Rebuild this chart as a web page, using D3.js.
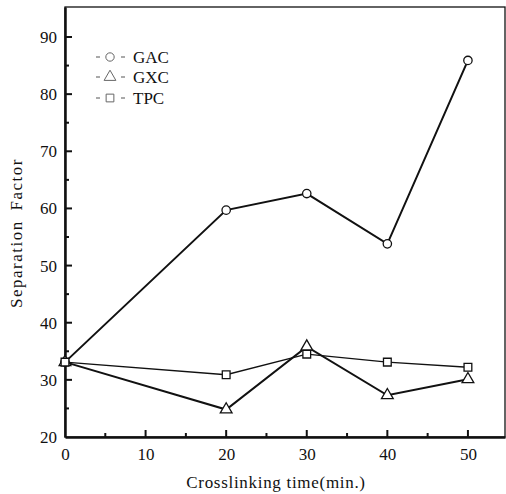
<!DOCTYPE html>
<html>
<head>
<meta charset="utf-8">
<script src="https://cdn.jsdelivr.net/npm/d3@7"></script>
<style>
  body { margin: 0; background: #fff; }
  svg text { font-family: "Liberation Serif", "DejaVu Serif", serif; fill: #111; }
</style>
</head>
<body>
<div id="chart"></div>
<script>
// crosslinking time (min.)
var times = [0, 20, 30, 40, 50];
// separation factor per series
var gac = [33.1, 59.7, 62.6, 53.8, 85.9];
var gxc = [33.1, 24.8, 35.8, 27.3, 30.1];
var tpc = [33.1, 30.9, 34.5, 33.1, 32.2];
var seriesNames = ["GAC", "GXC", "TPC"];
var xTicks = [0, 10, 20, 30, 40, 50];
var yTicks = [20, 30, 40, 50, 60, 70, 80, 90];

var width = 506, height = 494;
var margin = {top: 7, right: 1, bottom: 57, left: 65};

var svg = d3.select("#chart").append("svg")
    .attr("width", width)
    .attr("height", height);

var x = d3.scaleLinear().domain([0, 54.6]).range([margin.left, width - margin.right]);
var y = d3.scaleLinear().domain([20, 95.25]).range([height - margin.bottom, margin.top]);

// frame (top and right thinner)
svg.append("rect")
    .attr("x", x(0)).attr("y", y(95.25))
    .attr("width", x(54.6) - x(0)).attr("height", y(20) - y(95.25))
    .attr("fill", "none").attr("stroke", "#111").attr("stroke-width", 1.3);

// minor ticks every 5
var xMinor = d3.range(5, 55, 10);
var yMinor = d3.range(25, 95, 10);

var xAxis = svg.append("g")
    .attr("transform", "translate(0," + y(20) + ")")
    .call(d3.axisBottom(x).tickValues(xTicks).tickSize(0).tickPadding(11).tickFormat(d3.format("d")));
xAxis.select(".domain").attr("stroke", "#111").attr("stroke-width", 2.5);
xAxis.selectAll("text").attr("font-size", 17);

xAxis.selectAll(".major")
    .data(xTicks.slice(1)).enter().append("line")
    .attr("x1", function(d) { return x(d); }).attr("x2", function(d) { return x(d); })
    .attr("y1", 0).attr("y2", -7)
    .attr("stroke", "#111").attr("stroke-width", 2);
xAxis.selectAll(".minor")
    .data(xMinor).enter().append("line")
    .attr("x1", function(d) { return x(d); }).attr("x2", function(d) { return x(d); })
    .attr("y1", 0).attr("y2", -4)
    .attr("stroke", "#111").attr("stroke-width", 2);

var yAxis = svg.append("g")
    .attr("transform", "translate(" + x(0) + ",0)")
    .call(d3.axisLeft(y).tickValues(yTicks).tickSize(0).tickPadding(8).tickFormat(d3.format("d")));
yAxis.select(".domain").attr("stroke", "#111").attr("stroke-width", 2.5);
yAxis.selectAll("text").attr("font-size", 17);

yAxis.selectAll(".major")
    .data(yTicks.slice(1)).enter().append("line")
    .attr("y1", function(d) { return y(d); }).attr("y2", function(d) { return y(d); })
    .attr("x1", 0).attr("x2", 7)
    .attr("stroke", "#111").attr("stroke-width", 2);
yAxis.selectAll(".minor")
    .data(yMinor).enter().append("line")
    .attr("y1", function(d) { return y(d); }).attr("y2", function(d) { return y(d); })
    .attr("x1", 0).attr("x2", 4)
    .attr("stroke", "#111").attr("stroke-width", 2);

// axis titles
svg.append("text")
    .attr("x", 276).attr("y", 488)
    .attr("text-anchor", "middle").attr("font-size", 17)
    .attr("letter-spacing", 0.7)
    .text("Crosslinking time(min.)");
svg.append("text")
    .attr("transform", "translate(22,233) rotate(-90)")
    .attr("text-anchor", "middle").attr("font-size", 17)
    .attr("letter-spacing", 1.5).attr("word-spacing", 4)
    .text("Separation Factor");

// series
var allSeries = [gac, gxc, tpc];
var widths = [2, 2, 1.4];
var line = d3.line()
    .x(function(d, i) { return x(times[i]); })
    .y(function(d) { return y(d); });

var symbols = [d3.symbolCircle, d3.symbolTriangle, d3.symbolSquare];
var symSize = [55, 60, 60];

allSeries.forEach(function(vals, s) {
    svg.append("path")
        .datum(vals)
        .attr("d", line)
        .attr("fill", "none")
        .attr("stroke", "#111")
        .attr("stroke-width", widths[s]);
});

allSeries.forEach(function(vals, s) {
    svg.selectAll(".pt" + s)
        .data(vals).enter().append("path")
        .attr("d", d3.symbol().type(symbols[s]).size(symSize[s]))
        .attr("transform", function(d, i) { return "translate(" + x(times[i]) + "," + y(d) + ")"; })
        .attr("fill", "#fff")
        .attr("stroke", "#111")
        .attr("stroke-width", 1.3);
});

// legend
var legendY = [57, 77, 98];
var leg = svg.append("g");
seriesNames.forEach(function(name, s) {
    var g = leg.append("g").attr("transform", "translate(0," + legendY[s] + ")");
    g.append("line").attr("x1", 96).attr("x2", 100).attr("y1", 0).attr("y2", 0)
        .attr("stroke", "#555").attr("stroke-width", 1);
    g.append("line").attr("x1", 121).attr("x2", 125).attr("y1", 0).attr("y2", 0)
        .attr("stroke", "#555").attr("stroke-width", 1);
    g.append("path")
        .attr("d", d3.symbol().type(symbols[s]).size(symSize[s]))
        .attr("transform", "translate(110,0)")
        .attr("fill", "#fff").attr("stroke", "#666").attr("stroke-width", 1);
    g.append("text")
        .attr("x", 133).attr("y", 6)
        .attr("font-size", 17)
        .text(name);
});
</script>
</body>
</html>
